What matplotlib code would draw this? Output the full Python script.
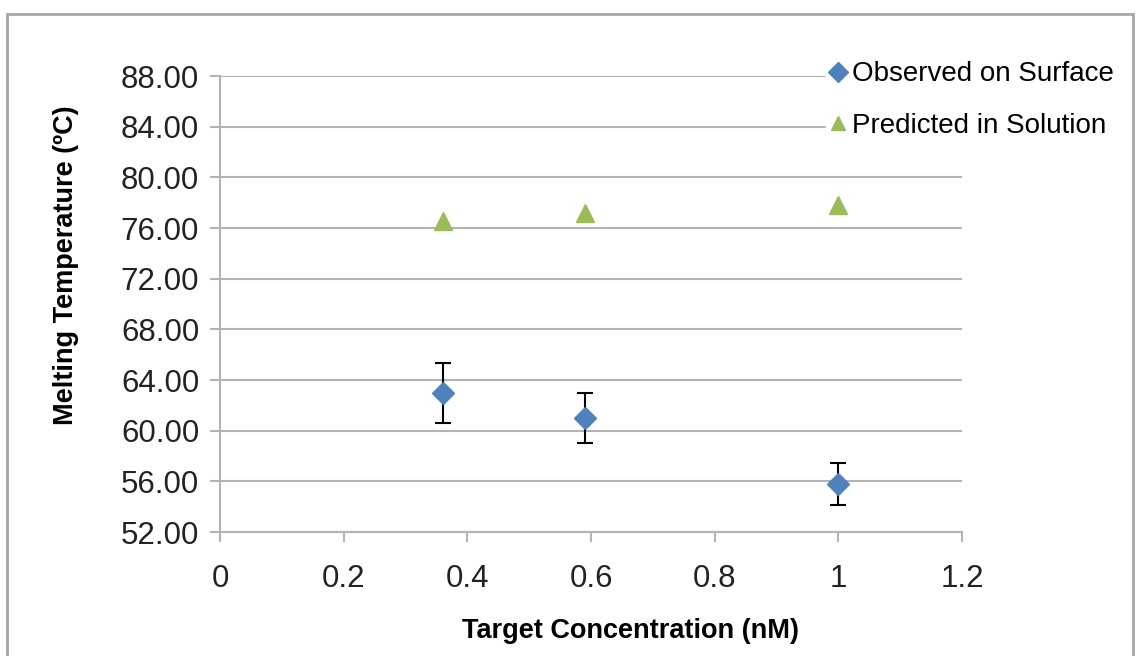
import numpy as np
import matplotlib.pyplot as plt
from matplotlib.patches import Rectangle

plt.rcParams['font.family'] = ['Liberation Sans', 'DejaVu Sans']

# melting temperatures vs target concentration
conc = [0.36, 0.59, 1.0]
tm_surface = [62.95, 61.0, 55.8]
tm_surface_err = [2.37, 1.95, 1.67]
tm_solution = [76.55, 77.2, 77.8]

y_ticks = np.arange(52, 89, 4)
x_ticks = [0, 0.2, 0.4, 0.6, 0.8, 1, 1.2]
x_labels = ['0', '0.2', '0.4', '0.6', '0.8', '1', '1.2']

blue = '#4F81BD'
green = '#9BBB59'
grid_gray = '#B3B3B3'

fig = plt.figure(figsize=(11.36, 6.56), dpi=100)
ax = fig.add_axes([0.1937, 0.189, 0.6531, 0.695])

# outer chart border
fig.patches.append(Rectangle((0.006, -0.05), 0.991, 1.028, transform=fig.transFigure,
                             fill=False, edgecolor='#A6A6A6', linewidth=2))

ax.errorbar(conc, tm_surface, yerr=tm_surface_err, fmt='none', ecolor='black',
            elinewidth=1.5, capsize=6, capthick=1.5, zorder=3)
ax.plot(conc, tm_surface, 'D', color=blue, markersize=11, zorder=4,
        label='Observed on Surface')
ax.plot(conc, tm_solution, '^', color=green, markersize=13, zorder=4,
        label='Predicted in Solution')

ax.set_xlim(0, 1.2)
ax.set_ylim(52, 88)
ax.set_yticks(y_ticks)
ax.set_yticklabels([f'{v:.2f}' for v in y_ticks])
ax.set_xticks(x_ticks)
ax.set_xticklabels(x_labels)
ax.yaxis.grid(True, color=grid_gray, linewidth=1.5)
ax.set_axisbelow(True)

for side in ['top', 'right']:
    ax.spines[side].set_visible(False)
for side in ['left', 'bottom']:
    ax.spines[side].set_color(grid_gray)
    ax.spines[side].set_linewidth(1.5)

ax.tick_params(axis='both', colors=grid_gray, labelcolor='#222222', labelsize=22.5,
               length=7, width=1.5)
ax.tick_params(axis='y', pad=8)
ax.tick_params(axis='x', pad=16)

ax.set_xlabel('Target Concentration (nM)', fontsize=19.5, fontweight='bold')
ax.set_ylabel('Melting Temperature (ºC)', fontsize=19.5, fontweight='bold')
ax.xaxis.set_label_coords(0.5526, -0.188)
ax.yaxis.set_label_coords(-0.19, 0.585)

leg = fig.legend(loc='upper left', bbox_to_anchor=(0.727, 0.915), frameon=True,
                 fontsize=20, handlelength=0.5, handletextpad=0.25,
                 labelspacing=0.92, borderpad=0.2, borderaxespad=0)
leg.get_frame().set_edgecolor('white')
leg.get_frame().set_facecolor('white')
leg.get_frame().set_alpha(1)
for h in leg.legend_handles:
    h.set_markersize(10)

fig.savefig('out.png', dpi=100)
